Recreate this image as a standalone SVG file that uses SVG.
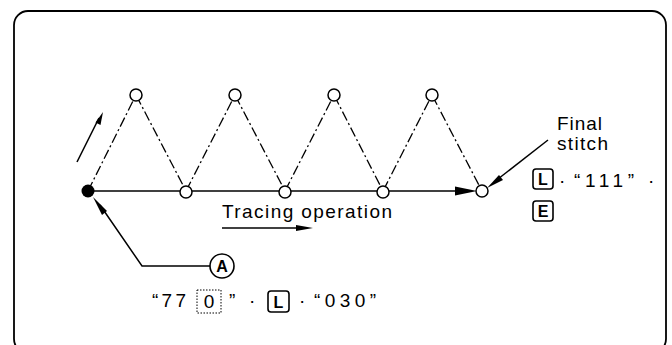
<svg xmlns="http://www.w3.org/2000/svg" width="672" height="345" viewBox="0 0 672 345">
<style>
.frame{fill:none;stroke:#000;stroke-width:1.8}
.zig{fill:none;stroke:#000;stroke-width:1.3;stroke-dasharray:10 3 2 3}
.ln{fill:none;stroke:#000;stroke-width:1.5}
.node{fill:#fff;stroke:#000;stroke-width:1.5}
.head{fill:#000;stroke:none}
.t{font-family:"Liberation Sans",Arial,sans-serif;font-size:19px;fill:#000}
.key{fill:#fff;stroke:#000;stroke-width:1.6}
.kt{font-family:"Liberation Sans",Arial,sans-serif;font-size:16px;font-weight:bold;fill:#000;text-anchor:middle}
.dot{fill:none;stroke:#000;stroke-width:1;stroke-dasharray:1.5 1.5}
</style>
<rect class="frame" x="14" y="11" width="652" height="342" rx="14" ry="14"/>
<g id="connectors">
  <polyline class="zig" points="88,191 136,95 186,191 235,95 285,191 334,95 383,191 432,95 482,191"/>
  <line class="ln" x1="88" y1="191" x2="462" y2="191"/>
  <polygon class="head" points="477,191 455,186.5 455,195.5"/>
  <line class="ln" x1="77" y1="162" x2="99" y2="118"/>
  <polygon class="head" points="103,112 100.5,125 95.5,122.5"/>
  <polyline class="ln" points="100,205 142,266 210,266"/>
  <polygon class="head" points="93,197 107,211 102,215"/>
  <line class="ln" x1="548" y1="140" x2="498" y2="179"/>
  <polygon class="head" points="487,188 499,175 503,180"/>
  <line class="ln" x1="222" y1="228" x2="298" y2="228"/>
  <polygon class="head" points="313,228 296,225 296,231"/>
</g>
<g id="start"><circle cx="88" cy="191" r="6.5" fill="#000"/></g>
<g id="top1"><circle class="node" cx="136" cy="95" r="6"/></g>
<g id="top2"><circle class="node" cx="235" cy="95" r="6"/></g>
<g id="top3"><circle class="node" cx="334" cy="95" r="6"/></g>
<g id="top4"><circle class="node" cx="432" cy="95" r="6"/></g>
<g id="bot1"><circle class="node" cx="186" cy="192" r="6"/></g>
<g id="bot2"><circle class="node" cx="285" cy="192" r="6"/></g>
<g id="bot3"><circle class="node" cx="383" cy="192" r="6"/></g>
<g id="final"><circle class="node" cx="482" cy="191" r="6"/></g>
<g id="tracing">
  <text class="t" x="222" y="218" textLength="170" lengthAdjust="spacing">Tracing operation</text>
</g>
<g id="finalLabel">
  <text class="t" x="557" y="130" textLength="45" lengthAdjust="spacing">Final</text>
  <text class="t" x="557" y="150" textLength="51" lengthAdjust="spacing">stitch</text>
</g>
<g id="finalCode">
  <rect class="key" x="533" y="169" width="20" height="20" rx="3"/>
  <text class="kt" x="543" y="185">L</text>
  <text class="t" x="559" y="187">·</text>
  <text class="t" x="574" y="187" textLength="60" lengthAdjust="spacing">“111”</text>
  <text class="t" x="648" y="187">·</text>
  <rect class="key" x="533" y="201" width="20" height="20" rx="3"/>
  <text class="kt" x="543" y="217">E</text>
</g>
<g id="markA">
  <circle cx="222" cy="266" r="12" fill="#fff" stroke="#000" stroke-width="1.6"/>
  <text class="kt" x="222" y="272">A</text>
</g>
<g id="startCode">
  <text class="t" x="152" y="307" textLength="34" lengthAdjust="spacing">“77</text>
  <rect class="dot" x="197" y="290" width="24" height="23"/>
  <text class="t" x="209" y="308" text-anchor="middle">0</text>
  <text class="t" x="229" y="307">”</text>
  <text class="t" x="249" y="307">·</text>
  <rect class="key" x="268" y="291" width="21" height="21" rx="3"/>
  <text class="kt" x="278.5" y="307.5">L</text>
  <text class="t" x="299" y="307">·</text>
  <text class="t" x="314" y="307" textLength="62" lengthAdjust="spacing">“030”</text>
</g>
</svg>
